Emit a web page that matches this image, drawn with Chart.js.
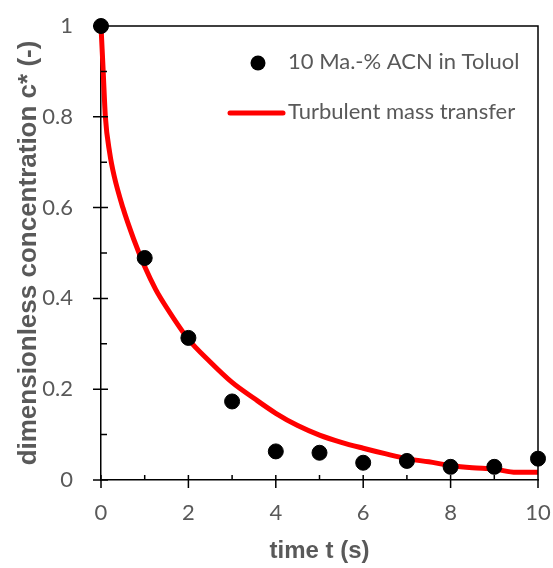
<!DOCTYPE html>
<html>
<head>
<meta charset="utf-8">
<script src="https://cdn.jsdelivr.net/npm/chart.js@4.4.1/dist/chart.umd.min.js"></script>
<style>
  html, body { margin: 0; padding: 0; background: #fff; }
  #wrap { width: 553px; height: 568px; }
</style>
</head>
<body>
<div id="wrap"><canvas id="c"></canvas></div>
<script>
// measured points (t in s, c*)
const measTime = [0, 1, 2, 3, 4, 5, 6, 7, 8, 9, 10];
const measConc = [1.0, 0.489, 0.313, 0.173, 0.063, 0.060, 0.038, 0.042, 0.029, 0.029, 0.047];

// turbulent mass transfer curve
const modelTime = [0, 0.05, 0.1, 0.2, 0.3, 0.5, 0.75, 1, 1.25, 1.5, 2, 2.5, 3, 3.5, 4, 4.5, 5, 5.5, 6, 6.5, 7, 7.5, 8, 8.5, 9, 9.5, 10];
const modelConc = [1.0, 0.9, 0.8, 0.72, 0.67, 0.6, 0.53, 0.47, 0.42, 0.38, 0.31, 0.26, 0.215, 0.18, 0.147, 0.12, 0.099, 0.083, 0.07, 0.058, 0.047, 0.04, 0.032, 0.027, 0.024, 0.017, 0.017];

const seriesNames = ['10 Ma.-% ACN in Toluol', 'Turbulent mass transfer'];
const xMinorTicks = [1, 3, 5, 7, 9];
const yMinorTicks = [0.1, 0.3, 0.5, 0.7, 0.9];

const PLOT_LEFT = 101, PLOT_RIGHT = 538, PLOT_TOP = 26, PLOT_BOTTOM = 480;
const GREY = '#595959';

// ticks crossing the axes, minor ticks inside, top/right frame
const frameTicks = {
    id: 'frameTicks',
    afterDraw(chart) {
        const { ctx, chartArea: a, scales: { x, y } } = chart;
        ctx.save();
        ctx.strokeStyle = '#000';
        ctx.lineWidth = 1.5;
        ctx.beginPath();
        ctx.moveTo(a.left, a.top); ctx.lineTo(a.right, a.top); ctx.lineTo(a.right, a.bottom);
        x.ticks.forEach(t => {
            const px = x.getPixelForValue(t.value);
            ctx.moveTo(px, a.bottom - 5); ctx.lineTo(px, a.bottom + 8);
        });
        xMinorTicks.forEach(v => {
            const px = x.getPixelForValue(v);
            ctx.moveTo(px, a.bottom - 5); ctx.lineTo(px, a.bottom);
        });
        y.ticks.forEach(t => {
            const py = y.getPixelForValue(t.value);
            ctx.moveTo(a.left - 8, py); ctx.lineTo(a.left + 7, py);
        });
        yMinorTicks.forEach(v => {
            const py = y.getPixelForValue(v);
            ctx.moveTo(a.left, py); ctx.lineTo(a.left + 6, py);
        });
        ctx.stroke();
        ctx.restore();
    }
};

// legend sits inside the plot, top right
const innerLegend = {
    id: 'innerLegend',
    afterDraw(chart) {
        const ctx = chart.ctx;
        ctx.save();
        ctx.fillStyle = '#000';
        ctx.beginPath();
        ctx.arc(258, 63, 7.5, 0, Math.PI * 2);
        ctx.fill();
        ctx.strokeStyle = '#ff0000';
        ctx.lineWidth = 5;
        ctx.lineCap = 'round';
        ctx.beginPath();
        ctx.moveTo(230, 113); ctx.lineTo(283, 113);
        ctx.stroke();
        ctx.fillStyle = GREY;
        ctx.font = '22px Lato';
        ctx.textBaseline = 'middle';
        ctx.fillText(seriesNames[0], 288, 62);
        ctx.fillText(seriesNames[1], 288, 112);
        ctx.restore();
    }
};

new Chart(document.getElementById('c'), {
    type: 'scatter',
    data: {
        datasets: [
            {
                label: seriesNames[0],
                data: measTime.map((t, i) => ({ x: t, y: measConc[i] })),
                backgroundColor: '#000',
                borderColor: '#000',
                pointRadius: 7.5,
                pointHoverRadius: 7.5,
                order: 0
            },
            {
                type: 'line',
                label: seriesNames[1],
                data: modelTime.map((t, i) => ({ x: t, y: modelConc[i] })),
                borderColor: '#ff0000',
                backgroundColor: '#ff0000',
                borderWidth: 5,
                pointRadius: 0,
                cubicInterpolationMode: 'monotone',
                order: 1
            }
        ]
    },
    options: {
        responsive: true,
        maintainAspectRatio: false,
        animation: false,
        clip: false,
        layout: { padding: { left: 0, right: 553 - PLOT_RIGHT, top: PLOT_TOP, bottom: 0 } },
        plugins: { legend: { display: false }, tooltip: { enabled: false } },
        scales: {
            x: {
                type: 'linear',
                min: 0, max: 10,
                grid: { display: false },
                border: { color: '#000', width: 1.5 },
                ticks: { stepSize: 2, color: GREY, font: { family: 'Lato', size: 22 }, padding: 12 },
                title: {
                    display: true, text: 'time t (s)', color: GREY,
                    font: { family: 'Liberation Sans', size: 24, weight: 'bold' },
                    padding: { top: 0, bottom: 2 }
                },
                afterFit(s) { s.height = 568 - PLOT_BOTTOM; s.paddingLeft = 0; s.paddingRight = 0; }
            },
            y: {
                type: 'linear',
                min: 0, max: 1,
                grid: { display: false },
                border: { color: '#000', width: 1.5 },
                ticks: {
                    stepSize: 0.2, color: GREY, font: { family: 'Lato', size: 22 }, padding: 20,
                    callback: v => String(Math.round(v * 10) / 10)
                },
                title: {
                    display: true, text: 'dimensionless concentration c* (-)', color: GREY,
                    font: { family: 'Liberation Sans', size: 26, weight: 'bold' },
                    padding: { top: 13, bottom: 0 }
                },
                afterFit(s) { s.width = PLOT_LEFT; s.paddingTop = 0; s.paddingBottom = 0; }
            }
        }
    },
    plugins: [frameTicks, innerLegend]
});
</script>
</body>
</html>
